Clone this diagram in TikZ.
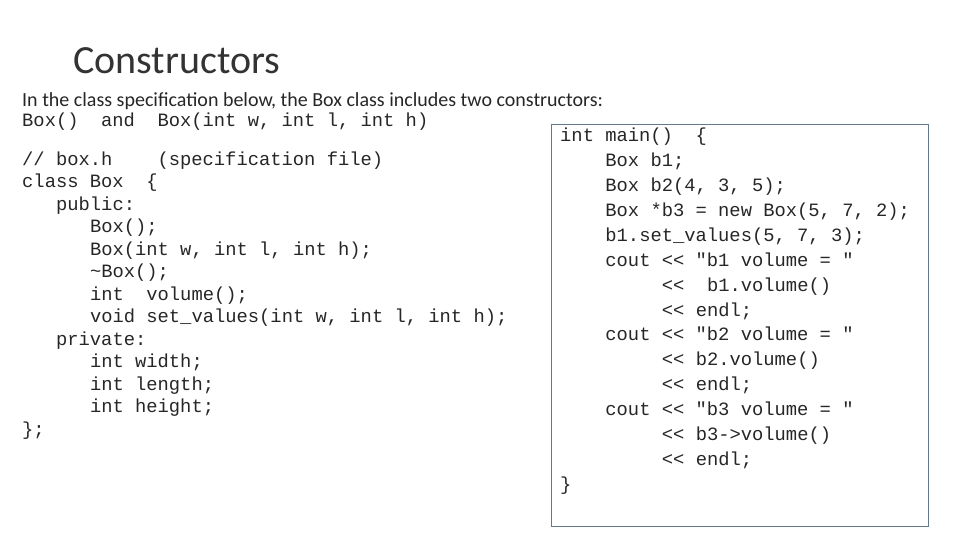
\documentclass[tikz,border=0pt]{standalone}
\usepackage{fontspec}
\setmainfont{Carlito}
\newfontfamily\codefont{Liberation Mono}
\begin{document}
\begin{tikzpicture}[x=1pt,y=-1pt,
  code/.style={anchor=base west,inner sep=0pt,font=\codefont\fontsize{18.8}{20}\selectfont,text=black!85},
  txt/.style={anchor=base west,inner sep=0pt,font=\fontsize{20}{22}\selectfont,text=black!85}]
\useasboundingbox (0,0) rectangle (960,540);
\node[anchor=base west,inner sep=0pt,font=\fontsize{40}{44}\selectfont,text=black!80] (title) at (73,74) {Constructors};
\node[txt] (intro) at (22,107) {In the class specification below, the Box class includes two constructors:};
\node[code] (intro2) at (22,127) {Box()\ \ and\ \ Box(int w, int l, int h)};
\def\ch{11.3}
\foreach \i/\ind/\t in {0/0/{//\ box.h\ \ \ \ (specification file)},1/0/{class Box\ \ \{},2/3/{public:},3/6/{Box();},4/6/{Box(int w, int l, int h);},5/6/{\textasciitilde Box();},6/6/{int\ \ volume();},7/6/{void set\_values(int w, int l, int h);},8/3/{private:},9/6/{int width;},10/6/{int length;},11/6/{int height;},12/0/{\};}}
  \node[code] (l\i) at (22+\ind*\ch,165+\i*22.5) {\t};
\draw[draw={rgb,255:red,100;green,120;blue,140},line width=0.8pt] (551,124) rectangle (928,526);
\foreach \i/\ind/\t in {0/0/{int main()\ \ \{},1/4/{Box b1;},2/4/{Box b2(4, 3, 5);},3/4/{Box *b3 = new Box(5, 7, 2);},4/4/{b1.set\_values(5, 7, 3);},5/4/{cout << "b1 volume = "},6/9/{<<\ \ b1.volume()},7/9/{<< endl;},8/4/{cout << "b2 volume = "},9/9/{<< b2.volume()},10/9/{<< endl;},11/4/{cout << "b3 volume = "},12/9/{<< b3->volume()},13/9/{<< endl;},14/0/{\}}}
  \node[code] (r\i) at (560+\ind*\ch,142+\i*24.86) {\t};
\end{tikzpicture}
\end{document}
